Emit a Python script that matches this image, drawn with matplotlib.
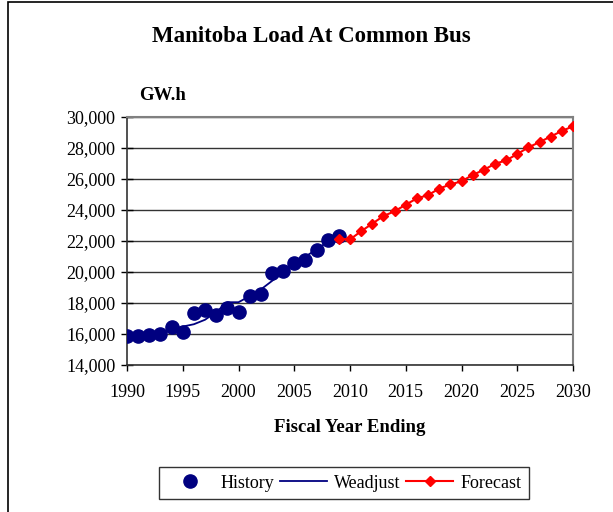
"""Manitoba load at common bus: history, weather-adjusted and forecast."""

import matplotlib

matplotlib.use("Agg")
import matplotlib.pyplot as plt
from matplotlib.patches import Rectangle
from matplotlib.ticker import FuncFormatter, MultipleLocator

history_years = list(range(1990, 2010))
history_gwh = [15900, 15900, 15960, 16000, 16420, 16110, 17340, 17540, 17250, 17690,
               17400, 18450, 18600, 19960, 20070, 20570, 20770, 21450, 22050, 22350]

weadjust_gwh = [15930, 15950, 16000, 16040, 16220, 16480, 16630, 16920, 17420, 18050,
                18050, 18440, 18870, 19420, 20000, 20600, 21000, 21450, 21950, 22150]

forecast_years = list(range(2009, 2031))
forecast_gwh = [22150, 22100, 22630, 23120, 23610, 23920, 24340, 24750, 24960, 25380,
                25650, 25850, 26260, 26590, 26980, 27200, 27610, 28040, 28380, 28740,
                29100, 29400]

NAVY = "#000080"
RED = "#ff0000"

plt.rcParams["font.family"] = ["Liberation Serif", "DejaVu Serif"]

fig = plt.figure(figsize=(6.13, 5.12), dpi=100)
W, H = 613, 512

# outer chart border
fig.patches.append(Rectangle((8 / W, -0.01), 1.0, 1 - 2 / H + 0.01, transform=fig.transFigure,
                             fill=False, edgecolor="black", linewidth=1.2))

ax = fig.add_axes([127 / W, 1 - 365 / H, (573 - 127) / W, (365 - 117) / H])

ax.plot(history_years, weadjust_gwh, color=NAVY, linewidth=1.3, label="Weadjust", zorder=3)
ax.plot(history_years, history_gwh, linestyle="none", marker="o", markersize=9.5,
        color=NAVY, label="History", zorder=4)
ax.plot(forecast_years, forecast_gwh, color=RED, linewidth=1.5, marker="D", markersize=5,
        label="Forecast", zorder=5)

ax.set_xlim(1990, 2030)
ax.set_ylim(14000, 30000)
ax.xaxis.set_major_locator(MultipleLocator(5))
ax.yaxis.set_major_locator(MultipleLocator(2000))
ax.yaxis.set_major_formatter(FuncFormatter(lambda v, _: f"{int(v):,}"))
ax.grid(axis="y", color="#333333", linewidth=1)
ax.set_axisbelow(True)

for side in ("top", "right"):
    ax.spines[side].set_color("#808080")
    ax.spines[side].set_linewidth(1.5)
for side in ("left", "bottom"):
    ax.spines[side].set_color("#333333")
    ax.spines[side].set_linewidth(1.2)

ax.tick_params(axis="both", width=1, labelsize=13, colors="black")
ax.tick_params(axis="x", direction="out", length=4, pad=10)
ax.tick_params(axis="y", direction="inout", length=9, pad=4)

ax.set_xlabel("Fiscal Year Ending", fontsize=13.5, fontweight="bold", labelpad=13)

fig.text(311 / W, 1 - 37 / H, "Manitoba Load At Common Bus", ha="center", va="center",
         fontsize=16.5, fontweight="bold")
fig.text(139 / W, 1 - 96 / H, "GW.h", ha="left", va="center", fontsize=13.5,
         fontweight="bold")

handles, labels = ax.get_legend_handles_labels()
order = [labels.index(n) for n in ("History", "Weadjust", "Forecast")]
leg = fig.legend([handles[i] for i in order], [labels[i] for i in order],
                 loc="center", bbox_to_anchor=(344 / W, 1 - 483 / H), ncol=3,
                 fontsize=13, frameon=True, fancybox=False, edgecolor="black",
                 handlelength=2.6, columnspacing=0.3, handletextpad=0.4,
                 borderpad=0.4)
leg.get_frame().set_linewidth(1)

fig.savefig("out.png", dpi=100)
plt.close(fig)
